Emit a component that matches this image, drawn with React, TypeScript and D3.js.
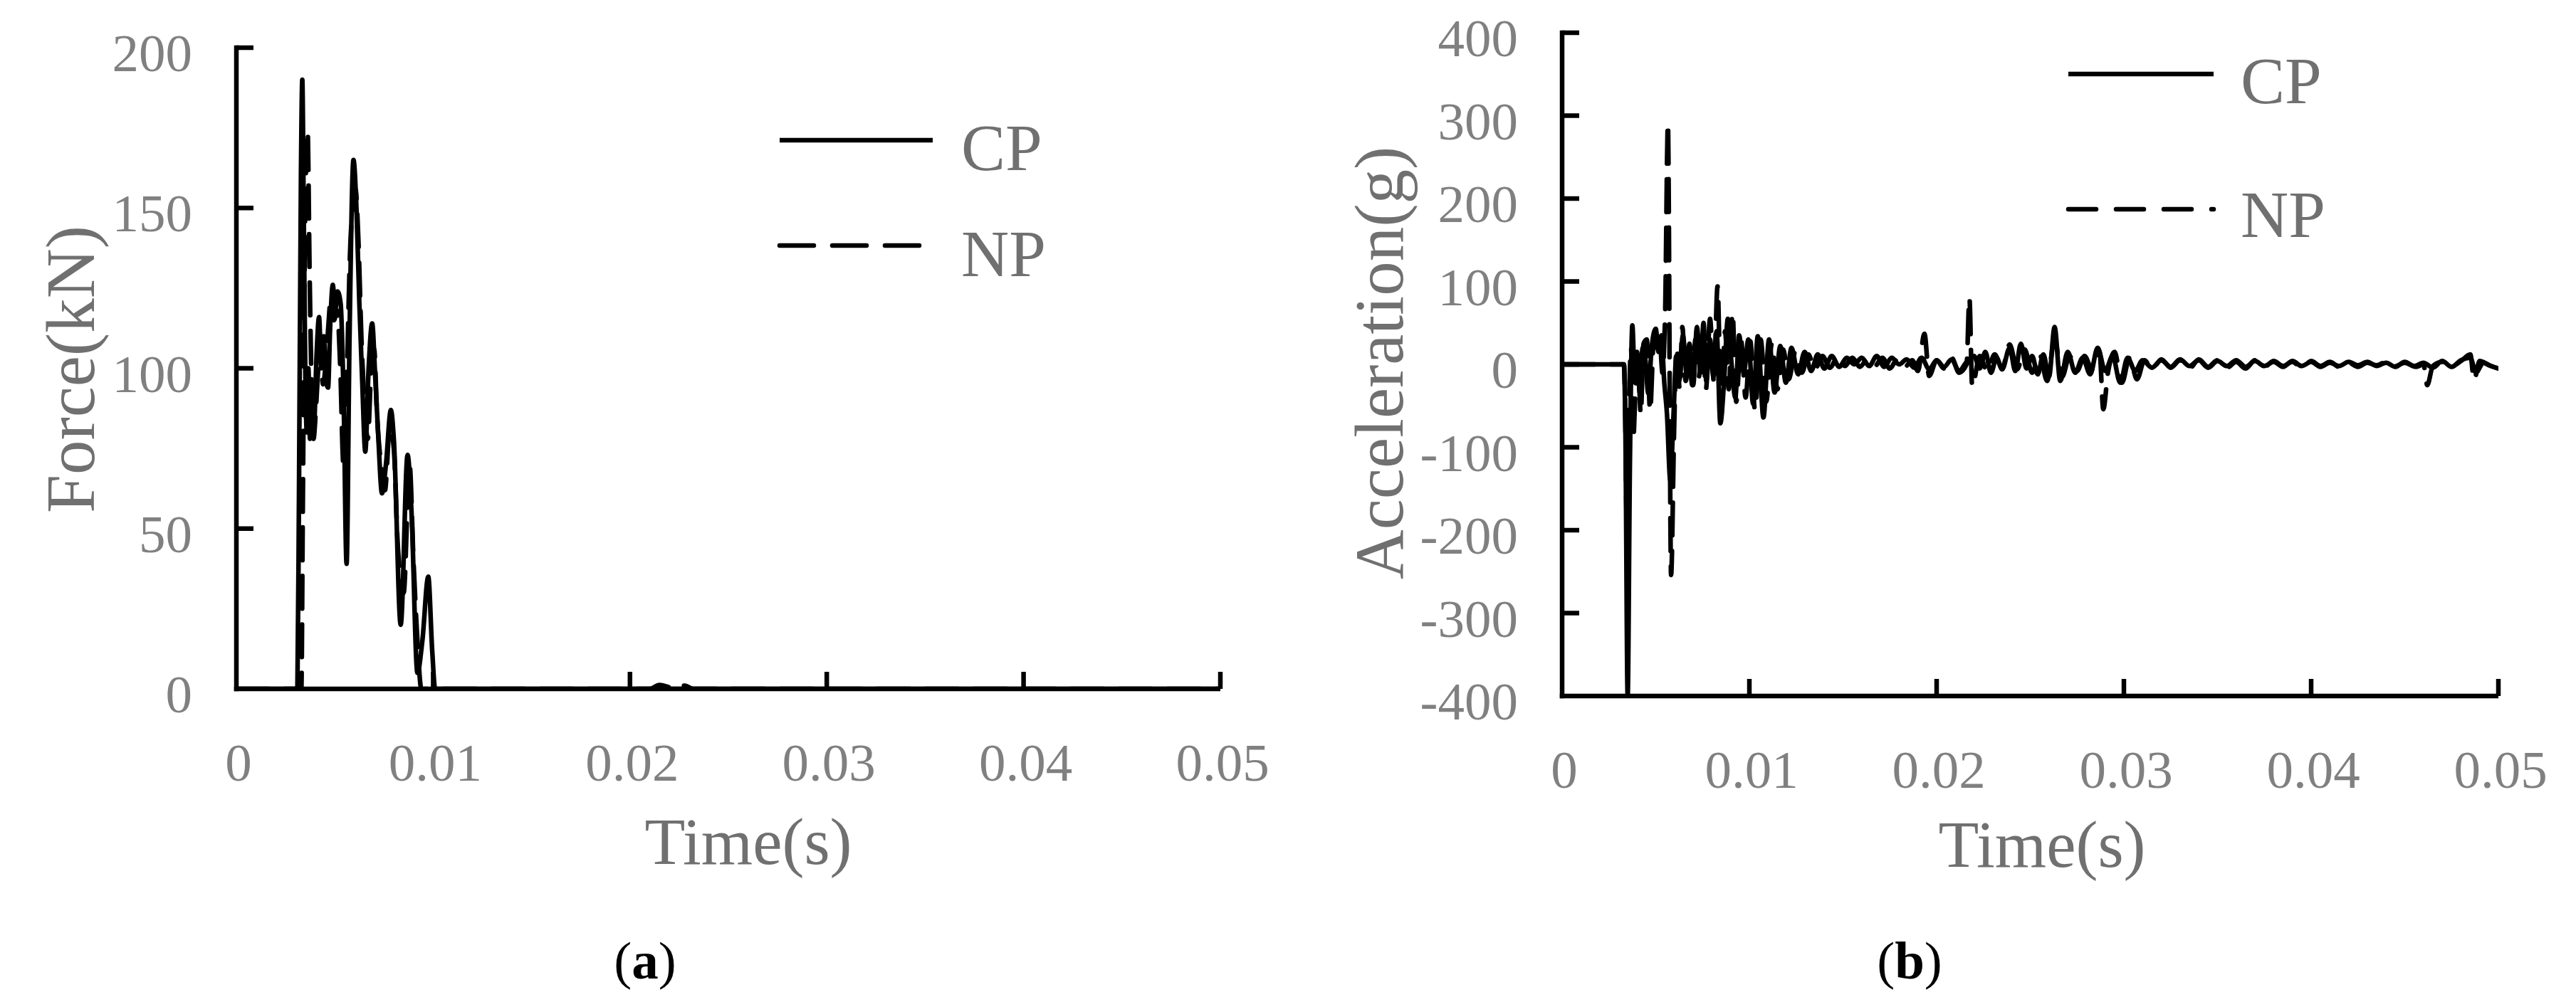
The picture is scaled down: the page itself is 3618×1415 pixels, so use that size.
import React from 'react';
import * as d3 from 'd3';

// ---------- data ----------
const timeTicks = [0, 0.01, 0.02, 0.03, 0.04, 0.05];
const timeTickLabels = ['0', '0.01', '0.02', '0.03', '0.04', '0.05'];
const forceTicks = [0, 50, 100, 150, 200];
const accTicks = [-400, -300, -200, -100, 0, 100, 200, 300, 400];
const seriesNames = ['CP', 'NP'];

// Force (kN) vs time (s)
const forceCP: [number, number][] = [
  [0, 0], [0.0031, 0], [0.00318, 60], [0.00328, 160], [0.00335, 190], [0.00342, 150],
  [0.0035, 100], [0.00358, 80], [0.00366, 100], [0.00374, 78], [0.00384, 88], [0.00394, 82],
  [0.00408, 105], [0.0042, 116], [0.00432, 100], [0.00444, 110], [0.00456, 96], [0.00466, 94],
  [0.00476, 112], [0.0049, 126], [0.00502, 118], [0.00514, 124], [0.0053, 120], [0.00545, 90],
  [0.0056, 39], [0.00575, 110], [0.00595, 165], [0.0061, 150], [0.00625, 120], [0.0064, 95],
  [0.00655, 74], [0.00672, 100], [0.0069, 114], [0.00705, 98], [0.0072, 80], [0.0074, 61],
  [0.0076, 70], [0.00785, 87], [0.008, 78], [0.00835, 20], [0.0087, 73], [0.0089, 55],
  [0.0092, 5], [0.00945, 15], [0.00975, 35], [0.00995, 12], [0.0101, 0], [0.05, 0],
];
const forceNP: [number, number][] = [
  [0, 0], [0.0033, 0], [0.00338, 60], [0.0035, 150], [0.00362, 174], [0.00372, 130],
  [0.00382, 95], [0.00392, 78], [0.00402, 85], [0.00414, 98], [0.00426, 108], [0.0044, 95],
  [0.00452, 100], [0.00466, 112], [0.0048, 122], [0.00496, 115], [0.00512, 118], [0.00528, 100],
  [0.00544, 70], [0.0056, 95], [0.0058, 140], [0.00605, 156], [0.0062, 140], [0.00635, 110],
  [0.0065, 90], [0.00668, 78], [0.00685, 100], [0.007, 106], [0.00715, 85], [0.00735, 70],
  [0.00755, 62], [0.0078, 82], [0.008, 75], [0.0082, 45], [0.0085, 30], [0.0088, 70],
  [0.009, 40], [0.0092, 15], [0.0094, 0], [0.021, 0], [0.0215, 1.2], [0.0222, 0.3],
  [0.0228, 1.0], [0.0232, 0], [0.05, 0],
];

// Acceleration (g) vs time (s)
const accCP: [number, number][] = [
  [0, 0], [0.0033, 0], [0.00338, -80], [0.0035, -400], [0.00362, -120], [0.00375, 47],
  [0.00388, -20], [0.004, 15], [0.00415, -35], [0.0043, 20], [0.00445, 5], [0.0046, -35],
  [0.00478, 20], [0.005, 43], [0.00515, 15], [0.0053, 35], [0.00545, -20], [0.0056, -60],
  [0.00578, -140], [0.00595, -60], [0.0061, 10], [0.00625, -20], [0.00645, 35], [0.00665, -11],
  [0.0068, 25], [0.007, -25], [0.0072, 45], [0.0074, -10], [0.00755, 50], [0.0077, -20],
  [0.0079, 30], [0.00808, -15], [0.00825, 40], [0.00845, -71], [0.00865, -20], [0.00885, 55],
  [0.00905, 0], [0.00925, -40], [0.00945, 35], [0.0097, -10], [0.00995, 30], [0.0102, -48],
  [0.01045, 34], [0.01075, -64], [0.01105, 30], [0.01135, -34], [0.01165, 22], [0.01195, -22],
  [0.01225, 20], [0.0126, -12], [0.01295, 15], [0.0133, -8], [0.01365, 12], [0.014, -5],
  [0.0144, 10], [0.0148, -3], [0.0152, 8], [0.0156, 0], [0.016, 8], [0.0164, -2],
  [0.0168, 10], [0.0172, -3], [0.0176, 8], [0.018, 0], [0.0184, 6], [0.0188, -4],
  [0.0192, 8], [0.0196, -6], [0.02, 5], [0.0204, -3], [0.0208, 6], [0.0212, -8],
  [0.0216, 3], [0.022, 10], [0.0223, -5], [0.0226, 15], [0.0229, -10], [0.0232, 8],
  [0.0235, -6], [0.0239, 20], [0.0242, -8], [0.0245, 25], [0.0248, -5], [0.0251, 10],
  [0.0254, -12], [0.0257, 12], [0.026, -15], [0.0263, 45], [0.0266, -20], [0.027, 15],
  [0.0274, -10], [0.0278, 8], [0.0282, -12], [0.0286, 20], [0.029, -8], [0.0294, 10],
  [0.0298, -22], [0.0302, 8], [0.0306, -8], [0.031, 5], [0.0315, -4], [0.032, 5],
  [0.0325, -3], [0.033, 6], [0.0335, -2], [0.034, 5], [0.0345, -4], [0.035, 4],
  [0.0355, -2], [0.036, 5], [0.0365, -3], [0.037, 4], [0.0375, -2], [0.038, 3],
  [0.0385, -3], [0.039, 4], [0.0395, -2], [0.04, 3], [0.0405, -3], [0.041, 2],
  [0.0415, -2], [0.042, 3], [0.0425, -1], [0.043, 3], [0.0435, -2], [0.044, 2],
  [0.0445, -3], [0.045, 3], [0.0455, -2], [0.046, 2], [0.0465, -4], [0.047, 4],
  [0.0475, -3], [0.048, 5], [0.0485, 8], [0.0488, -10], [0.0492, 2], [0.0496, -2], [0.05, -5],
];
const accNP: [number, number][] = [
  [0, 0], [0.0033, 0], [0.00336, -40], [0.00345, -185], [0.00356, -60], [0.00368, 20],
  [0.0038, -90], [0.00392, -30], [0.00405, 10], [0.0042, -60], [0.00435, 25], [0.00452, 30],
  [0.0047, -56], [0.0049, 30], [0.00505, 20], [0.0052, 40], [0.00535, -10], [0.0055, 60],
  [0.00565, 291], [0.00582, -254], [0.00598, -80], [0.00612, 20], [0.00628, -30], [0.00642, 45],
  [0.0066, -20], [0.00678, 10], [0.00695, -25], [0.00712, 30], [0.0073, -15], [0.0075, 35],
  [0.00768, -30], [0.0079, 55], [0.0081, -20], [0.0083, 94], [0.0085, -60], [0.0087, 40],
  [0.0089, -30], [0.0091, 62], [0.0093, -45], [0.00955, 30], [0.0098, -40], [0.01005, 28],
  [0.0103, -55], [0.0106, 30], [0.0109, -45], [0.0112, 25], [0.0115, -30], [0.0118, 18],
  [0.0121, -18], [0.01245, 15], [0.0128, -10], [0.01315, 12], [0.0135, -6], [0.0139, 10],
  [0.0143, -4], [0.0147, 8], [0.0151, -2], [0.0155, 8], [0.0159, -3], [0.0163, 6],
  [0.0167, -2], [0.0171, 8], [0.0175, -5], [0.0179, 6], [0.0183, -3], [0.0187, 5],
  [0.019, -8], [0.01935, 37], [0.0196, -14], [0.02, 5], [0.0204, -5], [0.0208, 8],
  [0.0212, -10], [0.0216, 0], [0.02175, 80], [0.0219, -27], [0.0223, 10], [0.0227, -8],
  [0.0231, 12], [0.0235, -5], [0.0239, 24], [0.0243, -6], [0.0247, 18], [0.0251, -10],
  [0.0255, 12], [0.0259, -20], [0.0263, 30], [0.0267, -15], [0.0271, 10], [0.0275, -8],
  [0.0279, 10], [0.0283, -6], [0.0287, 15], [0.0289, -54], [0.02915, -10], [0.0295, 15],
  [0.0299, -22], [0.0303, 8], [0.0307, -18], [0.0311, 5], [0.0315, -6], [0.032, 6],
  [0.0325, -4], [0.033, 5], [0.0335, -5], [0.034, 6], [0.0345, -3], [0.035, 5],
  [0.0355, -4], [0.036, 3], [0.0365, -5], [0.037, 5], [0.0375, -3], [0.038, 4],
  [0.0385, -2], [0.039, 3], [0.0395, -4], [0.04, 4], [0.0405, -2], [0.041, 3],
  [0.0415, -3], [0.042, 2], [0.0425, -3], [0.043, 2], [0.0435, -1], [0.044, 3],
  [0.0445, -2], [0.045, 2], [0.0456, -3], [0.046, 0], [0.0462, -25], [0.0465, -2],
  [0.047, 3], [0.0475, -2], [0.048, 4], [0.0485, 12], [0.0487, -19], [0.049, 4],
  [0.0495, -1], [0.05, -5],
];

// ---------- styling ----------
const FONT = '"Liberation Serif", "Times New Roman", serif';
const TICK_COLOR = '#808080';
const TITLE_COLOR = '#707070';
const AXIS_W = 6.5;
const LINE_W = 6.5;
const DATA_DASH = '46 22';

type PanelProps = {
  id: string;
  xRange: [number, number];
  yRange: [number, number];
  yDomain: [number, number];
  yTicks: number[];
  series: [number, number][][];
  yTitle: string;
  yTitlePos: [number, number];
  xTitlePos: [number, number];
  legend: { x1: number; x2: number; tx: number; lineY: number[]; textY: number[]; dash: string };
  tag: string;
  tagPos: [number, number];
};

function Panel(p: PanelProps) {
  const x = d3.scaleLinear().domain([0, 0.05]).range(p.xRange);
  const y = d3.scaleLinear().domain(p.yDomain).range(p.yRange);
  const line = d3
    .line<[number, number]>()
    .x((d) => x(d[0]))
    .y((d) => y(d[1]))
    .curve(d3.curveMonotoneX);
  const yBase = y(p.yDomain[0]);
  const x0 = p.xRange[0];
  const x1 = p.xRange[1];
  const tickLen = 24;
  return (
    <g>
      <defs>
        <clipPath id={`clip-${p.id}`}>
          <rect x={x0} y={p.yRange[1] - 4} width={x1 - x0} height={p.yRange[0] - p.yRange[1] + 4} />
        </clipPath>
      </defs>
      {/* data */}
      <g clipPath={`url(#clip-${p.id})`} fill="none" stroke="#000" strokeWidth={LINE_W} strokeLinejoin="round">
        <path d={line(p.series[0]) || ''} strokeLinecap="round" />
        <path d={line(p.series[1]) || ''} strokeDasharray={DATA_DASH} strokeLinecap="round" />
      </g>
      {/* axes */}
      <g stroke="#000" strokeWidth={AXIS_W} fill="none">
        <line x1={x0} x2={x0} y1={p.yRange[1] - AXIS_W / 2} y2={yBase + AXIS_W / 2} />
        <line x1={x0 - AXIS_W / 2} x2={x1} y1={yBase} y2={yBase} />
        {p.yTicks.filter((t) => t !== p.yDomain[0]).map((t) => (
          <line key={`yt${t}`} x1={x0} x2={x0 + tickLen} y1={y(t)} y2={y(t)} />
        ))}
        {timeTicks.filter((t) => t !== 0).map((t) => (
          <line key={`xt${t}`} x1={x(t)} x2={x(t)} y1={yBase} y2={yBase - tickLen} />
        ))}
      </g>
      {/* tick labels */}
      <g fontFamily={FONT} fontSize={75} fill={TICK_COLOR}>
        {p.yTicks.map((t) => (
          <text key={`yl${t}`} x={x0 - 62} y={y(t) + 33} textAnchor="end">
            {String(t)}
          </text>
        ))}
        {timeTicks.map((t, i) => (
          <text key={`xl${t}`} x={x(t) + 3} y={yBase + 129} textAnchor="middle">
            {timeTickLabels[i]}
          </text>
        ))}
      </g>
      {/* titles */}
      <g fontFamily={FONT} fill={TITLE_COLOR}>
        <text
          transform={`translate(${p.yTitlePos[0]},${p.yTitlePos[1]}) rotate(-90)`}
          textAnchor="middle"
          fontSize={97}
        >
          {p.yTitle}
        </text>
        <text x={p.xTitlePos[0]} y={p.xTitlePos[1]} textAnchor="middle" fontSize={93}>
          Time(s)
        </text>
      </g>
      {/* legend */}
      <g>
        {seriesNames.map((name, i) => (
          <g key={name}>
            <line
              x1={p.legend.x1}
              x2={p.legend.x2}
              y1={p.legend.lineY[i]}
              y2={p.legend.lineY[i]}
              stroke="#000"
              strokeWidth={LINE_W}
              strokeLinecap={i === 1 ? 'round' : 'butt'}
              strokeDasharray={i === 1 ? p.legend.dash : undefined}
            />
            <text x={p.legend.tx} y={p.legend.textY[i]} fontFamily={FONT} fontSize={93} fill={TITLE_COLOR}>
              {name}
            </text>
          </g>
        ))}
      </g>
      {/* panel tag */}
      <text x={p.tagPos[0]} y={p.tagPos[1]} fontFamily={FONT} fontSize={75} fill="#000" textAnchor="middle">
        (<tspan fontWeight="bold">{p.tag}</tspan>)
      </text>
    </g>
  );
}

export default function App() {
  return (
    <svg
      width={3618}
      height={1415}
      style={{ position: 'absolute', left: 0, top: 0, background: '#fff', display: 'block' }}
    >
      <rect width={3618} height={1415} fill="#fff" />
      <Panel
        id="a"
        xRange={[332, 1714]}
        yRange={[968, 67]}
        yDomain={[0, 200]}
        yTicks={forceTicks}
        series={[forceCP, forceNP]}
        yTitle="Force(kN)"
        yTitlePos={[132, 519]}
        xTitlePos={[1051, 1214]}
        legend={{ x1: 1095, x2: 1310, tx: 1350, lineY: [197, 345], textY: [239, 388], dash: '48 26' }}
        tag="a"
        tagPos={[906, 1375]}
      />
      <Panel
        id="b"
        xRange={[2194, 3509]}
        yRange={[978, 46]}
        yDomain={[-400, 400]}
        yTicks={accTicks}
        series={[accCP, accNP]}
        yTitle="Acceleration(g)"
        yTitlePos={[1970, 510]}
        xTitlePos={[2868, 1218]}
        legend={{ x1: 2905, x2: 3109, tx: 3147, lineY: [104, 294], textY: [145, 333], dash: '39 28' }}
        tag="b"
        tagPos={[2682, 1375]}
      />
    </svg>
  );
}
